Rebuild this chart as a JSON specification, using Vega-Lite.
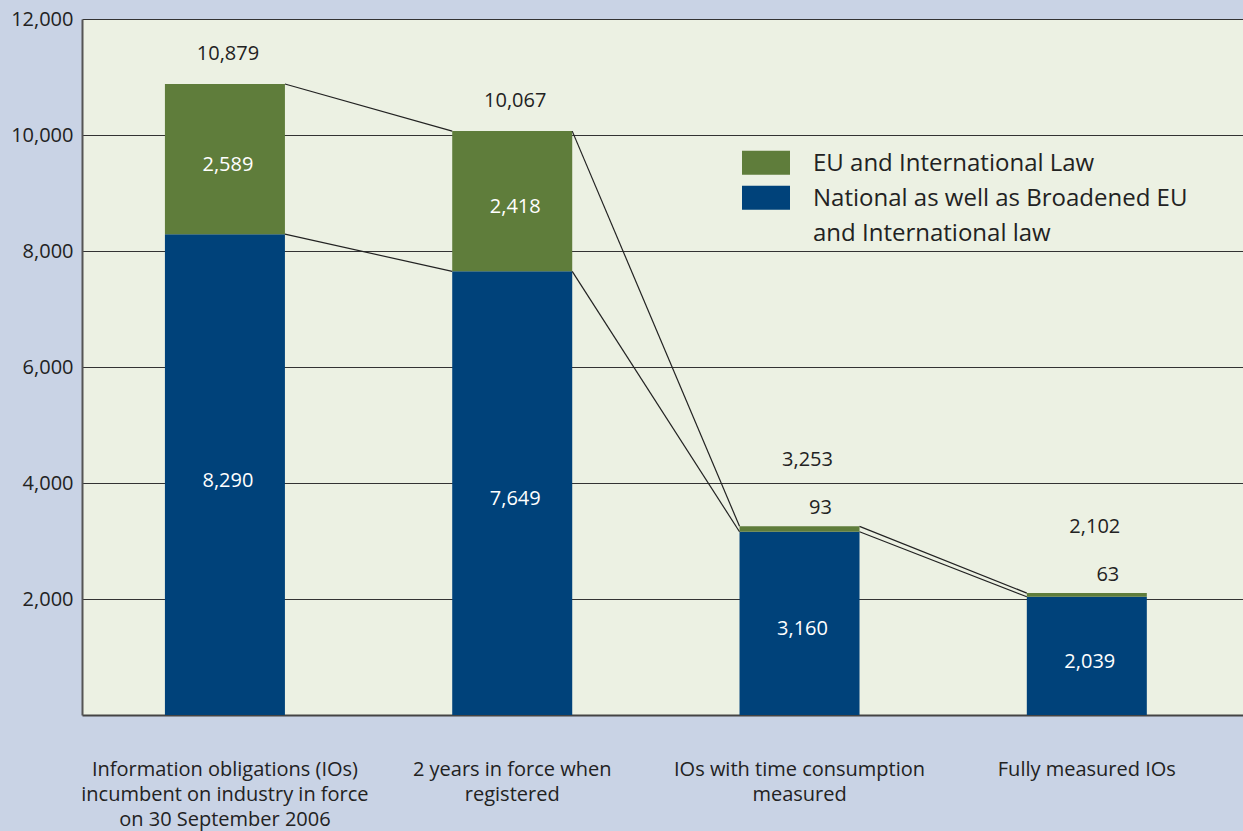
{
  "$schema": "https://vega.github.io/schema/vega-lite/v6.json",
  "width": 1161,
  "height": 696,
  "autosize": {"type": "none"},
  "padding": {"left": 82, "top": 19, "right": 0, "bottom": 116},
  "background": "#c9d3e5",
  "config": {
    "view": {"fill": "#ecf1e3", "stroke": null},
    "font": "Open Sans",
    "style": {"guide-label": {"lineHeight": 35}},
    "axisY": {"ticks": false, "tickSize": 0, "labelPadding": 9, "labelFontSize": 20, "labelColor": "#222222", "labelFont": "Open Sans", "domainColor": "#555555", "domainWidth": 2, "gridColor": "#333333", "gridWidth": 1.2},
    "axisX": {"ticks": false, "tickSize": 0, "labelPadding": 44, "labelAngle": 0, "labelFontSize": 20, "labelLineHeight": 25, "labelColor": "#222222", "labelFont": "Open Sans", "labelOverlap": false, "labelLimit": 400, "domainColor": "#444444", "domainWidth": 2, "grid": false}
  },
  "datasets": {
    "segments": [
      {"category": "Information obligations (IOs) incumbent on industry in force on 30 September 2006", "series": "National as well as Broadened EU and International law", "value": 8290, "rank": 1},
      {"category": "Information obligations (IOs) incumbent on industry in force on 30 September 2006", "series": "EU and International Law", "value": 2589, "rank": 2},
      {"category": "2 years in force when registered", "series": "National as well as Broadened EU and International law", "value": 7649, "rank": 1},
      {"category": "2 years in force when registered", "series": "EU and International Law", "value": 2418, "rank": 2},
      {"category": "IOs with time consumption measured", "series": "National as well as Broadened EU and International law", "value": 3160, "rank": 1},
      {"category": "IOs with time consumption measured", "series": "EU and International Law", "value": 93, "rank": 2},
      {"category": "Fully measured IOs", "series": "National as well as Broadened EU and International law", "value": 2039, "rank": 1},
      {"category": "Fully measured IOs", "series": "EU and International Law", "value": 63, "rank": 2}
    ],
    "totals": [
      {"category": "Information obligations (IOs) incumbent on industry in force on 30 September 2006", "total": 10879},
      {"category": "2 years in force when registered", "total": 10067},
      {"category": "IOs with time consumption measured", "total": 3253},
      {"category": "Fully measured IOs", "total": 2102}
    ],
    "links": [
      {"from": "Information obligations (IOs) incumbent on industry in force on 30 September 2006", "to": "2 years in force when registered", "y_from": 10879, "y_to": 10067},
      {"from": "Information obligations (IOs) incumbent on industry in force on 30 September 2006", "to": "2 years in force when registered", "y_from": 8290, "y_to": 7649},
      {"from": "2 years in force when registered", "to": "IOs with time consumption measured", "y_from": 10067, "y_to": 3253},
      {"from": "2 years in force when registered", "to": "IOs with time consumption measured", "y_from": 7649, "y_to": 3160},
      {"from": "IOs with time consumption measured", "to": "Fully measured IOs", "y_from": 3253, "y_to": 2102},
      {"from": "IOs with time consumption measured", "to": "Fully measured IOs", "y_from": 3160, "y_to": 2039}
    ]
  },
  "layer": [
    {
      "data": {"name": "segments"},
      "mark": {"type": "bar"},
      "encoding": {
        "x": {
          "field": "category", "type": "nominal",
          "scale": {"domain": ["Information obligations (IOs) incumbent on industry in force on 30 September 2006", "2 years in force when registered", "IOs with time consumption measured", "Fully measured IOs"], "paddingInner": 0.5823, "paddingOuter": 0.3117, "align": 0.463},
          "axis": {
            "title": null,
            "labelExpr": "datum.value == 'Information obligations (IOs) incumbent on industry in force on 30 September 2006' ? ['Information obligations (IOs)', 'incumbent on industry in force', 'on 30 September 2006'] : datum.value == '2 years in force when registered' ? ['2 years in force when', 'registered'] : datum.value == 'IOs with time consumption measured' ? ['IOs with time consumption', 'measured'] : datum.label"
          }
        },
        "y": {
          "field": "value", "type": "quantitative", "stack": "zero",
          "scale": {"domain": [0, 12000], "nice": false},
          "axis": {"title": null, "values": [2000, 4000, 6000, 8000, 10000, 12000], "labelExpr": "format(datum.value, ',')"}
        },
        "color": {
          "field": "series", "type": "nominal",
          "scale": {"domain": ["EU and International Law", "National as well as Broadened EU and International law"], "range": ["#5f7d3b", "#00427a"]},
          "legend": {
            "title": null, "orient": "none", "legendX": 660, "legendY": 128, "padding": 0,
            "symbolType": "M-1,-0.84H1V0.16H-1Z", "symbolSize": 2304, "symbolStrokeWidth": 0,
            "labelFontSize": 24, "labelOffset": 23, "labelBaseline": "alphabetic", "labelColor": "#222222",
            "labelFont": "Open Sans", "labelLimit": 600, "rowPadding": 6,
            "labelExpr": "datum.value == 'National as well as Broadened EU and International law' ? ['National as well as Broadened EU', 'and International law'] : datum.label"
          }
        },
        "order": {"field": "rank", "type": "quantitative"}
      }
    },
    {
      "data": {"name": "links"},
      "mark": {"type": "rule", "color": "#222222", "strokeWidth": 1.2},
      "encoding": {
        "x": {"field": "from", "type": "nominal", "bandPosition": 1,
          "axis": {"title": null, "labelExpr": "datum.value == 'Information obligations (IOs) incumbent on industry in force on 30 September 2006' ? ['Information obligations (IOs)', 'incumbent on industry in force', 'on 30 September 2006'] : datum.value == '2 years in force when registered' ? ['2 years in force when', 'registered'] : datum.value == 'IOs with time consumption measured' ? ['IOs with time consumption', 'measured'] : datum.label"},
          "scale": {"domain": ["Information obligations (IOs) incumbent on industry in force on 30 September 2006", "2 years in force when registered", "IOs with time consumption measured", "Fully measured IOs"], "paddingInner": 0.5823, "paddingOuter": 0.3117, "align": 0.463}},
        "x2": {"field": "to", "bandPosition": 0},
        "y": {"field": "y_from", "type": "quantitative", "axis": {"title": null, "values": [2000, 4000, 6000, 8000, 10000, 12000], "labelExpr": "format(datum.value, ',')"}, "scale": {"domain": [0, 12000], "nice": false}},
        "y2": {"field": "y_to"}
      }
    },
    {
      "data": {"name": "segments"},
      "mark": {"type": "text", "fontSize": 20, "dy": 6, "dx": 3, "baseline": "middle", "font": "Open Sans"},
      "encoding": {
        "x": {"field": "category", "type": "nominal",
          "axis": {"title": null, "labelExpr": "datum.value == 'Information obligations (IOs) incumbent on industry in force on 30 September 2006' ? ['Information obligations (IOs)', 'incumbent on industry in force', 'on 30 September 2006'] : datum.value == '2 years in force when registered' ? ['2 years in force when', 'registered'] : datum.value == 'IOs with time consumption measured' ? ['IOs with time consumption', 'measured'] : datum.label"},
          "scale": {"domain": ["Information obligations (IOs) incumbent on industry in force on 30 September 2006", "2 years in force when registered", "IOs with time consumption measured", "Fully measured IOs"], "paddingInner": 0.5823, "paddingOuter": 0.3117, "align": 0.463}},
        "y": {"field": "value", "type": "quantitative", "stack": "zero", "bandPosition": 0.5, "axis": {"title": null, "values": [2000, 4000, 6000, 8000, 10000, 12000], "labelExpr": "format(datum.value, ',')"}, "scale": {"domain": [0, 12000], "nice": false}},
        "detail": {"field": "series", "type": "nominal"},
        "order": {"field": "rank", "type": "quantitative"},
        "text": {"condition": {"test": "datum.value >= 500", "field": "value", "format": ","}, "value": ""},
        "color": {"value": "#ffffff"}
      }
    },
    {
      "data": {"name": "segments"},
      "mark": {"type": "text", "fontSize": 20, "dy": -18, "dx": 21, "baseline": "middle", "font": "Open Sans"},
      "encoding": {
        "x": {"field": "category", "type": "nominal",
          "axis": {"title": null, "labelExpr": "datum.value == 'Information obligations (IOs) incumbent on industry in force on 30 September 2006' ? ['Information obligations (IOs)', 'incumbent on industry in force', 'on 30 September 2006'] : datum.value == '2 years in force when registered' ? ['2 years in force when', 'registered'] : datum.value == 'IOs with time consumption measured' ? ['IOs with time consumption', 'measured'] : datum.label"},
          "scale": {"domain": ["Information obligations (IOs) incumbent on industry in force on 30 September 2006", "2 years in force when registered", "IOs with time consumption measured", "Fully measured IOs"], "paddingInner": 0.5823, "paddingOuter": 0.3117, "align": 0.463}},
        "y": {"field": "value", "type": "quantitative", "stack": "zero", "axis": {"title": null, "values": [2000, 4000, 6000, 8000, 10000, 12000], "labelExpr": "format(datum.value, ',')"}, "scale": {"domain": [0, 12000], "nice": false}},
        "detail": {"field": "series", "type": "nominal"},
        "order": {"field": "rank", "type": "quantitative"},
        "text": {"condition": {"test": "datum.value < 500", "field": "value", "format": ","}, "value": ""},
        "color": {"value": "#222222"}
      }
    },
    {
      "data": {"name": "totals"},
      "transform": [{"filter": "datum.total > 5000"}],
      "mark": {"type": "text", "fontSize": 20, "dy": -30, "dx": 3, "baseline": "middle", "font": "Open Sans", "color": "#222222"},
      "encoding": {
        "x": {"field": "category", "type": "nominal",
          "axis": {"title": null, "labelExpr": "datum.value == 'Information obligations (IOs) incumbent on industry in force on 30 September 2006' ? ['Information obligations (IOs)', 'incumbent on industry in force', 'on 30 September 2006'] : datum.value == '2 years in force when registered' ? ['2 years in force when', 'registered'] : datum.value == 'IOs with time consumption measured' ? ['IOs with time consumption', 'measured'] : datum.label"},
          "scale": {"domain": ["Information obligations (IOs) incumbent on industry in force on 30 September 2006", "2 years in force when registered", "IOs with time consumption measured", "Fully measured IOs"], "paddingInner": 0.5823, "paddingOuter": 0.3117, "align": 0.463}},
        "y": {"field": "total", "type": "quantitative", "axis": {"title": null, "values": [2000, 4000, 6000, 8000, 10000, 12000], "labelExpr": "format(datum.value, ',')"}, "scale": {"domain": [0, 12000], "nice": false}},
        "text": {"field": "total", "type": "quantitative", "format": ","}
      }
    },
    {
      "data": {"name": "totals"},
      "transform": [{"filter": "datum.total < 5000"}],
      "mark": {"type": "text", "fontSize": 20, "dy": -66, "dx": 8, "baseline": "middle", "font": "Open Sans", "color": "#222222"},
      "encoding": {
        "x": {"field": "category", "type": "nominal",
          "axis": {"title": null, "labelExpr": "datum.value == 'Information obligations (IOs) incumbent on industry in force on 30 September 2006' ? ['Information obligations (IOs)', 'incumbent on industry in force', 'on 30 September 2006'] : datum.value == '2 years in force when registered' ? ['2 years in force when', 'registered'] : datum.value == 'IOs with time consumption measured' ? ['IOs with time consumption', 'measured'] : datum.label"},
          "scale": {"domain": ["Information obligations (IOs) incumbent on industry in force on 30 September 2006", "2 years in force when registered", "IOs with time consumption measured", "Fully measured IOs"], "paddingInner": 0.5823, "paddingOuter": 0.3117, "align": 0.463}},
        "y": {"field": "total", "type": "quantitative", "axis": {"title": null, "values": [2000, 4000, 6000, 8000, 10000, 12000], "labelExpr": "format(datum.value, ',')"}, "scale": {"domain": [0, 12000], "nice": false}},
        "text": {"field": "total", "type": "quantitative", "format": ","}
      }
    }
  ]
}
